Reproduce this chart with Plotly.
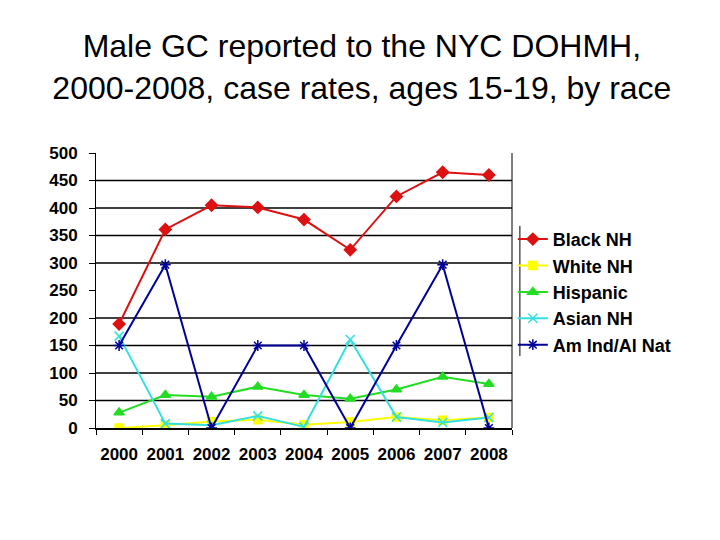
import plotly.graph_objects as go

years = ["2000", "2001", "2002", "2003", "2004", "2005", "2006", "2007", "2008"]
black_nh = [189, 361, 405, 401, 379, 324, 421, 465, 460]
white_nh = [0, 5, 12, 15, 6, 11, 20, 14, 19]
hispanic = [28, 60, 57, 75, 60, 53, 70, 93, 80]
asian_nh = [167, 8, 5, 22, 2, 161, 20, 10, 19]
am_ind = [150, 297, 0, 150, 150, 0, 150, 297, 0]
y_ticks = [0, 50, 100, 150, 200, 250, 300, 350, 400, 450, 500]
grid_vals = [50, 100, 150, 200, 300, 350, 400, 450]

series = [
    ("Black NH", black_nh, "#DD1111", "diamond", 9),
    ("White NH", white_nh, "#FFFF00", "square", 8),
    ("Hispanic", hispanic, "#22DD22", "triangle-up", 9),
    ("Asian NH", asian_nh, "#33E0E0", "x-thin-open", 9),
    ("Am Ind/Al Nat", am_ind, "#000099", "asterisk-open", 9),
]

fig = go.Figure()
for name, vals, color, sym, sz in series:
    fig.add_trace(go.Scatter(
        x=years, y=vals, name=name, mode="lines+markers",
        line=dict(color=color, width=2),
        marker=dict(symbol=sym, size=sz, color=color, line=dict(color=color, width=1.5)),
    ))

shapes = []
for g in grid_vals:
    shapes.append(dict(type="line", xref="paper", yref="y", x0=0, x1=1, y0=g, y1=g,
                       line=dict(color="black", width=1.5), layer="below"))
shapes.append(dict(type="line", xref="paper", yref="paper", x0=1, x1=1, y0=0, y1=1,
                   line=dict(color="black", width=1)))
shapes.append(dict(type="line", xref="paper", yref="paper", x0=1.019, x1=1.019, y0=0.262, y1=0.735,
                   line=dict(color="black", width=1)))

fig.update_layout(
    width=712, height=532,
    paper_bgcolor="white", plot_bgcolor="white",
    margin=dict(l=88, r=208, t=145, b=112),
    title=dict(text="Male GC reported to the NYC DOHMH,<br>2000-2008, case rates, ages 15-19, by race",
               x=0.497, xanchor="center", y=0.907, yanchor="top",
               font=dict(family="Liberation Sans, Arial", size=32, color="black")),
    font=dict(family="Liberation Sans, Arial", color="black"),
    showlegend=True,
    legend=dict(x=1.002, xanchor="left", y=0.495, yanchor="middle",
                font=dict(family="Liberation Sans, Arial", size=18, color="black", weight="bold"),
                bgcolor="rgba(0,0,0,0)", tracegroupgap=0, itemwidth=30),
    shapes=shapes,
)
fig.update_xaxes(type="category", range=[-0.5, 8.5], showgrid=False, showline=True,
                 linecolor="black", linewidth=1.5, ticks="outside", tickson="boundaries",
                 ticklen=5, tickcolor="black", ticklabelstandoff=10, tickangle=0,
                 tickfont=dict(size=17, weight="bold", family="Liberation Sans, Arial"))
fig.update_yaxes(range=[0, 500], tickvals=y_ticks, showgrid=False, showline=True,
                 linecolor="black", linewidth=1, ticks="outside", ticklen=6, tickcolor="black",
                 zeroline=False, ticklabelstandoff=8,
                 tickfont=dict(size=17, weight="bold", family="Liberation Sans, Arial"))

fig.write_html("out.html")
